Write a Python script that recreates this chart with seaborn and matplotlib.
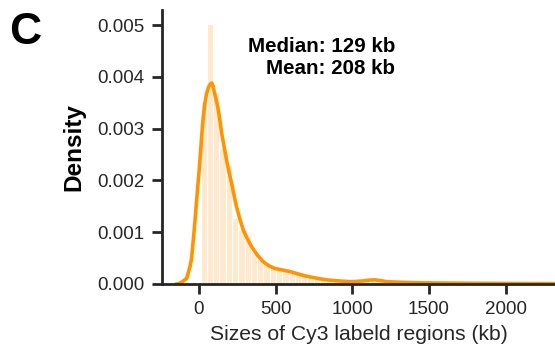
import numpy as np
import pandas as pd
import matplotlib
matplotlib.use("Agg")
import matplotlib.pyplot as plt
import seaborn as sns

# Histogram of region sizes (kb): bin edges and density per bin
bin_start = 10
bin_width = 41
bar_density = [
    0.00352, 0.00502, 0.00370, 0.00262, 0.00230, 0.00128, 0.00105, 0.00092,
    0.00062, 0.00050, 0.00040, 0.00032, 0.00028, 0.00026, 0.00022, 0.00019,
    0.00016, 0.00013, 0.00010, 0.00008, 0.00006, 0.00005, 0.00004, 0.00003,
    0.00004, 0.00005, 0.00009, 0.00010, 0.00006, 0.00004, 0.00003, 0.00002,
    0.00003, 0.00002, 0.00001, 0.00002, 0.00002, 0.00001, 0.00001, 0.00002,
    0.00001, 0.00001, 0.00002, 0.00001, 0.00001, 0.00001, 0.00001, 0.00001,
    0.00001, 0.00001, 0.00001, 0.00001, 0.00001, 0.00001,
]

# Kernel density estimate of the same sizes
kde_kb = [-150, -135, -110, -80, -59, -48, -37, -26, -15, -4, 6.5, 17, 28, 39, 50,
          62, 74, 83, 92, 104, 115, 126, 137, 148, 164, 180, 196, 213, 229, 245,
          267, 289, 316, 343, 380, 419, 457, 495, 545, 593, 650, 702, 770, 832,
          910, 984, 1030, 1071, 1110, 1147, 1185, 1224, 1300, 1419, 1600, 1852,
          2050, 2243, 2330]
kde_density = [0.0, 0.000005, 0.00004, 0.00011, 0.00033, 0.0005, 0.00085, 0.00122,
               0.00162, 0.00201, 0.00239, 0.00283, 0.00323, 0.00350, 0.00368,
               0.00380, 0.00386, 0.00388, 0.00382, 0.00365, 0.00352, 0.00336,
               0.00315, 0.00291, 0.00265, 0.00239, 0.00216, 0.00194, 0.00171,
               0.00149, 0.00125, 0.00104, 0.00087, 0.00072, 0.00056, 0.00043,
               0.00035, 0.00030, 0.00027, 0.00024, 0.00019, 0.00015, 0.00011,
               0.00008, 0.00006, 0.000045, 0.00005, 0.00006, 0.000075, 0.00008,
               0.000065, 0.000045, 0.000035, 0.000025, 0.000018, 0.000013,
               0.00001, 0.000008, 0.000007]

median_kb = 129
mean_kb = 208

x_ticks = [0, 500, 1000, 1500, 2000]
y_ticks = [0.000, 0.001, 0.002, 0.003, 0.004, 0.005]

sns.set_theme(style="ticks")
plt.rcParams["font.family"] = ["Liberation Sans", "DejaVu Sans"]

edges = [bin_start + bin_width * i for i in range(len(bar_density) + 1)]
centers = [(a + b) / 2 for a, b in zip(edges[:-1], edges[1:])]
hist_df = pd.DataFrame({"size": centers, "density": bar_density})
kde_df = pd.DataFrame({"size": kde_kb, "density": kde_density})

fig = plt.figure(figsize=(5.55, 3.52), dpi=100)
ax = fig.add_axes([162 / 555, (352 - 284) / 352, (555 - 162) / 555, (284 - 10) / 352])

orange = "#FF9400"
sns.histplot(data=hist_df, x="size", weights="density", bins=edges, ax=ax,
             color=orange, alpha=0.2, edgecolor="white", linewidth=0.8)
sns.lineplot(data=kde_df, x="size", y="density", ax=ax, color=orange,
             linewidth=2.6, sort=False)

ax.set_xlim(-241, 2321)
ax.set_ylim(0, 0.00529)
ax.set_xticks(x_ticks)
ax.set_xticklabels([str(t) for t in x_ticks])
ax.set_yticks(y_ticks)
ax.set_yticklabels([f"{t:.3f}" for t in y_ticks])

for side in ("top", "right"):
    ax.spines[side].set_visible(False)
for side in ("left", "bottom"):
    ax.spines[side].set_linewidth(2)
    ax.spines[side].set_color("#262626")
ax.tick_params(axis="both", length=7.5, width=2, color="#262626",
               labelsize=13.5, labelcolor="#262626")
ax.tick_params(axis="x", pad=5)
ax.tick_params(axis="y", pad=5)

ax.set_xlabel("Sizes of Cy3 labeld regions (kb)", fontsize=15.2,
              color="#262626", labelpad=5)
ax.set_ylabel("Density", fontsize=17.5, fontweight="bold", color="black",
              labelpad=9)

ax.text(0.593, 0.826, f"Median: {median_kb} kb\nMean: {mean_kb} kb",
        transform=ax.transAxes, ha="right", va="center", fontsize=14.8,
        fontweight="bold", color="black", linespacing=1.2)

fig.text(9 / 555, 1 - 32 / 352, "C", fontsize=32, fontweight="bold",
         ha="left", va="center", color="black")

fig.savefig("out.png", dpi=100)
